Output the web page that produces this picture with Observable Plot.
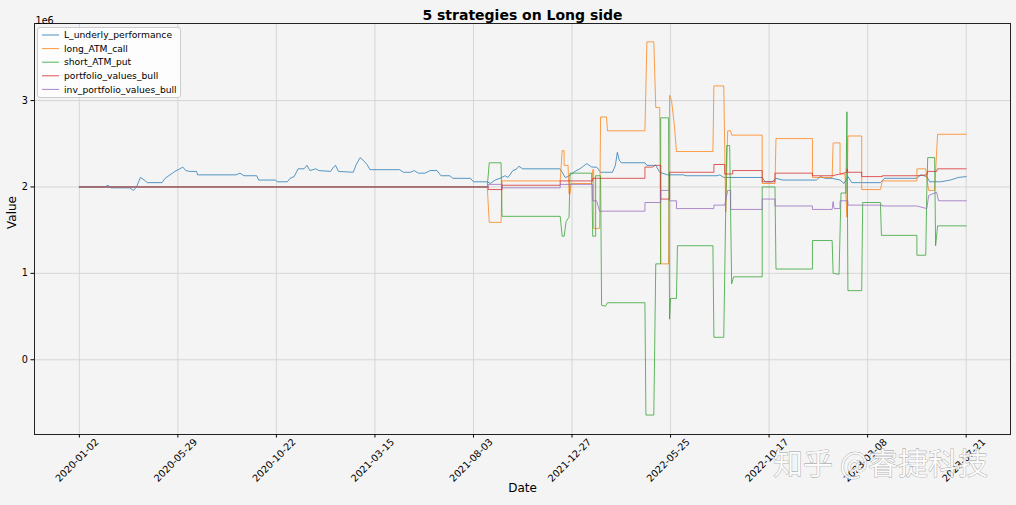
<!DOCTYPE html>
<html><head><meta charset="utf-8">
<script src="https://cdn.jsdelivr.net/npm/d3@7"></script>
<script src="https://cdn.jsdelivr.net/npm/@observablehq/plot@0.6"></script>
<style>
html,body{margin:0;padding:0;background:#f4f4f4;}
#chart{width:1016px;height:505px;}
</style></head><body><div id="chart"></div>
<script>
// ---- data (x = trading-day index, y = value in units of 1e6) ----
const seriesNames = ["L_underly_performance","long_ATM_call","short_ATM_put","portfolio_values_bull","inv_portfolio_values_bull"];
const seriesColors = ["#1f77b4","#ff7f0e","#2ca02c","#d62728","#9467bd"];
const tickDayIndex = [0,100,200,300,400,500,600,700,800,900];
const tickDateLabels = ["2020-01-02","2020-05-29","2020-10-22","2021-03-15","2021-08-03","2021-12-27","2022-05-25","2022-10-17","2023-03-08","2023-07-21"];
const yTickValues = [0,1,2,3];

const underlyPoints = [[0,2.0],[26,2.0],[29,2.02],[32,1.99],[51,1.99],[55,1.96],[58,2.0],[62,2.11],[66,2.08],[69,2.05],[84,2.05],[87,2.10],[92,2.14],[97,2.18],[102,2.21],[105,2.23],[108,2.19],[112,2.18],[119,2.18],[120,2.14],[159,2.14],[163,2.16],[167,2.13],[180,2.13],[182,2.08],[199,2.08],[201,2.06],[211,2.06],[214,2.10],[218,2.12],[222,2.21],[228,2.21],[231,2.25],[234,2.19],[240,2.21],[243,2.19],[255,2.18],[258,2.23],[260,2.25],[263,2.18],[278,2.17],[281,2.26],[285,2.34],[288,2.31],[292,2.26],[295,2.20],[325,2.20],[329,2.17],[336,2.17],[340,2.19],[344,2.16],[351,2.16],[356,2.19],[363,2.19],[367,2.13],[376,2.13],[379,2.10],[397,2.10],[400,2.06],[414,2.06],[417,2.04],[422,2.08],[427,2.10],[432,2.13],[435,2.11],[440,2.19],[444,2.21],[446,2.24],[450,2.21],[488,2.21],[493,2.11],[496,2.12],[503,2.18],[508,2.21],[515,2.27],[520,2.23],[525,2.23],[529,2.17],[541,2.17],[544,2.25],[546,2.40],[548,2.31],[550,2.28],[574,2.28],[576,2.25],[585,2.25],[589,2.17],[597,2.14],[613,2.14],[616,2.13],[647,2.13],[650,2.14],[654,2.11],[693,2.11],[696,2.06],[703,2.06],[707,2.10],[714,2.08],[748,2.08],[752,2.12],[757,2.10],[764,2.10],[772,2.08],[776,2.04],[780,2.12],[784,2.05],[813,2.05],[817,2.10],[850,2.10],[854,2.14],[860,2.12],[863,2.06],[874,2.06],[884,2.08],[892,2.11],[900,2.12]];

const longCallPoints = [[0,2.0],[414,2.0],[416,1.59],[428,1.59],[429,2.07],[488,2.07],[490,2.42],[492,2.42],[492,2.25],[496,2.25],[497,1.92],[498,1.92],[499,2.04],[520,2.04],[521,2.20],[522,2.20],[522,1.52],[528,1.52],[529,2.81],[535,2.81],[536,2.65],[574,2.65],[576,3.68],[583,3.68],[585,2.92],[589,2.92],[590,1.11],[598,1.11],[599,3.06],[601,3.00],[604,2.70],[606,2.41],[643,2.41],[644,3.17],[654,3.17],[656,1.71],[658,2.65],[661,2.65],[662,2.60],[693,2.60],[693,2.04],[706,2.04],[707,2.56],[744,2.56],[744,2.11],[764,2.11],[765,2.51],[772,2.51],[772,2.15],[777,2.15],[779,1.65],[780,2.59],[794,2.59],[794,1.97],[813,1.97],[815,2.07],[850,2.07],[850,2.21],[859,2.21],[860,2.10],[862,1.96],[868,1.96],[871,2.61],[900,2.61]];

const shortPutPoints = [[0,2.0],[414,2.0],[416,2.28],[428,2.28],[429,1.66],[488,1.66],[490,1.43],[492,1.43],[494,1.60],[497,1.65],[498,2.16],[520,2.16],[521,1.43],[524,1.43],[524,2.13],[529,2.13],[530,0.63],[534,0.62],[536,0.66],[574,0.66],[575,-0.64],[583,-0.64],[585,1.11],[590,1.11],[590,2.80],[598,2.80],[599,0.47],[600,0.71],[606,0.71],[607,1.32],[643,1.32],[644,0.26],[654,0.26],[657,2.48],[660,2.48],[662,0.88],[664,0.96],[693,0.96],[693,2.0],[706,2.0],[707,1.05],[744,1.05],[744,1.38],[764,1.38],[765,1.0],[771,0.99],[773,1.93],[778,1.93],[779,2.87],[780,0.80],[794,0.80],[795,1.82],[813,1.82],[814,1.44],[850,1.44],[850,1.21],[859,1.21],[860,1.92],[861,2.34],[868,2.34],[869,1.32],[871,1.55],[900,1.55]];

const bullPoints = [[0,2.0],[415,2.0],[415,1.97],[429,1.97],[429,2.02],[488,2.02],[488,2.07],[521,2.07],[521,2.10],[574,2.10],[574,2.23],[582,2.23],[584,2.25],[590,2.25],[590,1.86],[599,1.86],[599,2.17],[644,2.17],[644,2.26],[655,2.26],[655,2.15],[663,2.15],[663,2.19],[693,2.19],[693,2.06],[706,2.06],[706,2.16],[744,2.16],[744,2.13],[764,2.13],[772,2.15],[779,2.17],[779,2.21],[780,2.17],[794,2.17],[794,2.12],[815,2.12],[815,2.13],[850,2.13],[860,2.14],[861,2.18],[870,2.18],[871,2.21],[900,2.21]];

const invBullPoints = [[0,2.0],[415,2.0],[415,2.03],[429,2.03],[429,1.99],[488,1.99],[488,2.03],[521,2.03],[521,1.84],[525,1.84],[528,1.72],[574,1.72],[574,1.82],[590,1.82],[590,1.96],[599,1.96],[599,1.84],[606,1.84],[606,1.75],[644,1.75],[644,1.79],[655,1.79],[658,1.96],[661,1.96],[661,1.74],[693,1.74],[693,1.86],[706,1.86],[706,1.78],[744,1.78],[744,1.74],[764,1.74],[765,1.83],[766,1.75],[772,1.75],[772,1.84],[780,1.84],[780,1.79],[815,1.79],[815,1.78],[850,1.78],[860,1.75],[862,1.90],[870,1.94],[872,1.84],[900,1.84]];

const allSeries = [underlyPoints, longCallPoints, shortPutPoints, bullPoints, invBullPoints];
const rows = allSeries.flatMap((pts, si) => pts.map(([day, v]) => ({series: seriesNames[si], day, value: v})));

const svg = Plot.plot({
  width: 1016, height: 505,
  marginTop: 23, marginBottom: 71, marginLeft: 34, marginRight: 6,
  style: {fontFamily: "DejaVu Sans", background: "#f4f4f4", color: "#000"},
  x: {type: "linear", domain: [-45.5, 945]},
  y: {domain: [-0.865, 3.892]},
  color: {domain: seriesNames, range: seriesColors},
  marks: [
    Plot.gridX(tickDayIndex, {stroke: "#cfcfcf", strokeOpacity: 1, strokeWidth: 0.8}),
    Plot.gridY(yTickValues, {stroke: "#cfcfcf", strokeOpacity: 1, strokeWidth: 0.8}),
    Plot.line(rows, {x: "day", y: "value", z: "series", stroke: "series", strokeWidth: 1, strokeOpacity: 0.75}),
    Plot.frame({stroke: "#222", strokeWidth: 1}),
    Plot.axisY(yTickValues, {tickSize: 3.5, tickPadding: 3, fontSize: 9.7, label: null, tickFormat: d => String(d)}),
    Plot.axisX(tickDayIndex, {tickSize: 3.5, tickFormat: () => "", label: null}),
    Plot.text(tickDayIndex, {x: d => d, text: (d, i) => tickDateLabels[i], frameAnchor: "bottom", dy: 28, rotate: -45, textAnchor: "middle", fontSize: 9.7}),
    Plot.text(["5 strategies on Long side"], {frameAnchor: "top", dy: -13, fontSize: 14, fontWeight: "bold"}),
    Plot.text(["Value"], {frameAnchor: "left", dx: -22, rotate: -90, fontSize: 12}),
    Plot.text(["Date"], {frameAnchor: "bottom", dy: 57, fontSize: 12}),
    Plot.text(["1e6"], {frameAnchor: "top-left", dy: -6, dx: 1, textAnchor: "start", fontSize: 9.7})
  ]
});

// legend inside the plot (upper left)
const s = d3.select(svg);
const lg = s.append("g").attr("font-family", "DejaVu Sans").attr("font-size", 9.2).attr("text-anchor", "start");
lg.append("rect").attr("x", 37.5).attr("y", 27.5).attr("width", 143).attr("height", 70).attr("rx", 2.5)
  .attr("fill", "#ffffff").attr("fill-opacity", 0.8).attr("stroke", "#cccccc");
seriesNames.forEach((name, i) => {
  const y = 35 + 13.6 * i;
  lg.append("line").attr("x1", 42).attr("x2", 59).attr("y1", y).attr("y2", y)
    .attr("stroke", seriesColors[i]).attr("stroke-opacity", 0.8).attr("stroke-width", 1);
  lg.append("text").attr("x", 64).attr("y", y).attr("dy", "0.35em").attr("text-anchor", "start").attr("fill", "#000").text(name);
});
// watermark
s.append("text").attr("x", 773).attr("y", 474).attr("text-anchor", "start").attr("font-family", "Noto Sans CJK SC").attr("font-size", 30)
  .attr("fill", "#ffffff").attr("fill-opacity", 0.85).attr("stroke", "#9a9a9a").attr("stroke-width", 0.7)
  .attr("paint-order", "stroke").text("知乎 @睿捷科技");

document.getElementById("chart").append(svg);
</script></body></html>
